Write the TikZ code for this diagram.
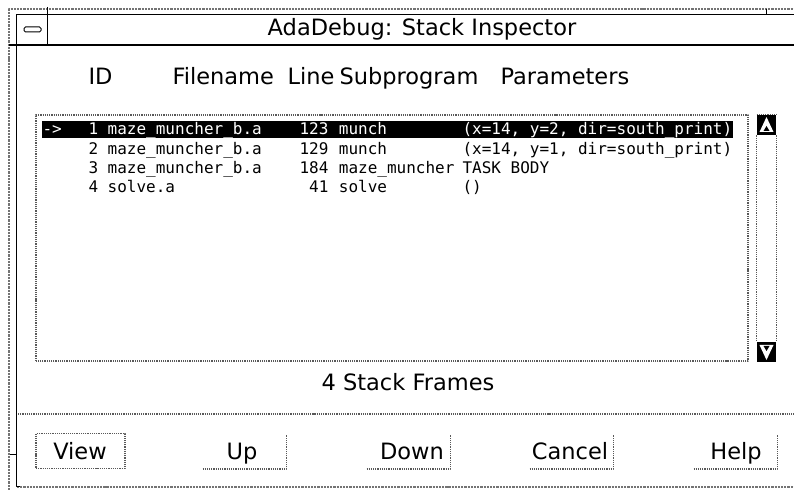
\documentclass[tikz,border=0pt]{standalone}
\usepackage{fontspec}
\setmainfont{DejaVu Sans}
\newfontfamily\listfont{DejaVu Sans Mono}
\begin{document}
\begin{tikzpicture}[>=latex,line join=bevel,
  frame/.style={draw=black!55,line width=2.2bp,densely dotted},
  groove/.style={draw=black!65,line width=1.2bp,densely dotted},
  label/.style={inner sep=0pt,font=\fontsize{22.5bp}{25bp}\selectfont},
  head/.style={label,anchor=base west},
  cell/.style={inner sep=0pt,anchor=base west,font=\listfont\fontsize{16bp}{18bp}\selectfont},
  numcell/.style={cell,anchor=base east},
  button/.style={minimum width=83bp,minimum height=35bp},
  arrowbox/.style={fill=black,inner sep=0pt,minimum width=19bp,minimum height=20bp},
]
  \pgfsetlinewidth{1bp}
  \useasboundingbox (0bp,0bp) rectangle (794bp,490bp);
%%
  % Window: outer frame
  \draw [frame] (9bp,0bp) -- (9bp,481bp) -- (794bp,481bp);
  \draw [frame] (17bp,3bp) -- (794bp,3bp);
  \draw (16bp,475bp) -- (16bp,3bp) -- (20bp,3bp);
  \draw (16bp,475bp) -- (794bp,475bp);
  \draw (10bp,35bp) -- (16bp,35bp);
  \draw (766bp,481bp) -- (766bp,475bp);
  % Title bar
  \draw [line width=1.2bp] (9bp,445bp) -- (794bp,445bp);
  \draw (47bp,483bp) -- (47bp,445bp);
  \draw [rounded corners=1.5bp] (24bp,458bp) rectangle (41bp,463bp);
  \node [label,anchor=base] (title) at (422bp,454bp) {AdaDebug: Stack Inspector};
  % Column headers
  \node [head] (hid) at (88bp,405bp) {ID};
  \node [head] (hfile) at (172bp,405bp) {Filename};
  \node [head] (hline) at (287bp,405bp) {Line};
  \node [head] (hsub) at (339bp,405bp) {Subprogram};
  \node [head] (hpar) at (500bp,405bp) {Parameters};
  % List box
  \draw [groove] (36bp,129bp) rectangle (748bp,375bp);
  \fill [black] (42bp,352bp) rectangle (733bp,369bp);
  % Row: 1 (selected)
\begin{scope}[white]
  \node [cell] (mark1) at (42bp,355bp) {->};
  \node [cell] (id1) at (88bp,355bp) {1};
  \node [cell] (file1) at (107.2bp,355bp) {maze\_muncher\_b.a};
  \node [numcell] (line1) at (329bp,355bp) {123};
  \node [cell] (sub1) at (338.4bp,355bp) {munch};
  \node [cell] (par1) at (462bp,355bp) {(x=14, y=2, dir=south\_print)};
\end{scope}
  % Row: 2
  \node [cell] (id2) at (88bp,335bp) {2};
  \node [cell] (file2) at (107.2bp,335bp) {maze\_muncher\_b.a};
  \node [numcell] (line2) at (329bp,335bp) {129};
  \node [cell] (sub2) at (338.4bp,335bp) {munch};
  \node [cell] (par2) at (462bp,335bp) {(x=14, y=1, dir=south\_print)};
  % Row: 3
  \node [cell] (id3) at (88bp,316bp) {3};
  \node [cell] (file3) at (107.2bp,316bp) {maze\_muncher\_b.a};
  \node [numcell] (line3) at (329bp,316bp) {184};
  \node [cell] (sub3) at (338.4bp,316bp) {maze\_muncher};
  \node [cell] (par3) at (462bp,316bp) {TASK BODY};
  % Row: 4
  \node [cell] (id4) at (88bp,297bp) {4};
  \node [cell] (file4) at (107.2bp,297bp) {solve.a};
  \node [numcell] (line4) at (329bp,297bp) {41};
  \node [cell] (sub4) at (338.4bp,297bp) {solve};
  \node [cell] (par4) at (462bp,297bp) {()};
  % Scroll bar
  \node [arrowbox] (sbup) at (766.5bp,365bp) {};
  \node [arrowbox] (sbdown) at (766.5bp,138bp) {};
  \fill [white] (766.5bp,373bp) -- (759.5bp,358bp) -- (773.5bp,358bp) -- cycle;
  \fill [black] (766.5bp,364bp) -- (763.5bp,359bp) -- (769.5bp,359bp) -- cycle;
  \fill [white] (766.5bp,130bp) -- (759.5bp,145bp) -- (773.5bp,145bp) -- cycle;
  \fill [black] (766.5bp,139bp) -- (763.5bp,144bp) -- (769.5bp,144bp) -- cycle;
  \draw [groove] (sbup.south west) -- (sbdown.north west);
  \draw [groove] (sbup.south east) -- (sbdown.north east);
  \draw [groove] (sbup.north west) -- (sbup.north east);
  % Status
  \node [label,anchor=base] (status) at (408bp,99bp) {4 Stack Frames};
  \draw [groove] (18bp,76bp) -- (794bp,76bp);
  % Buttons
  \node [button,draw=black!65,line width=1.2bp,densely dotted,minimum width=89bp] (view) at (80.5bp,39bp) {};
  \node [button] (up) at (244.5bp,39bp) {};
  \node [button] (down) at (408.5bp,39bp) {};
  \node [button] (cancel) at (571.5bp,39bp) {};
  \node [button] (help) at (735.5bp,39bp) {};
  \node [label,anchor=base] (lview) at (80bp,31bp) {View};
  \node [label,anchor=base] (lup) at (242bp,31bp) {Up};
  \node [label,anchor=base] (ldown) at (412bp,31bp) {Down};
  \node [label,anchor=base] (lcancel) at (570bp,31bp) {Cancel};
  \node [label,anchor=base] (lhelp) at (736bp,31bp) {Help};
  \foreach \b in {up,down,cancel,help}
    \draw [groove] (\b.south west) -- (\b.south east) -- ([yshift=-2bp]\b.north east);
%
\end{tikzpicture}
\end{document}
